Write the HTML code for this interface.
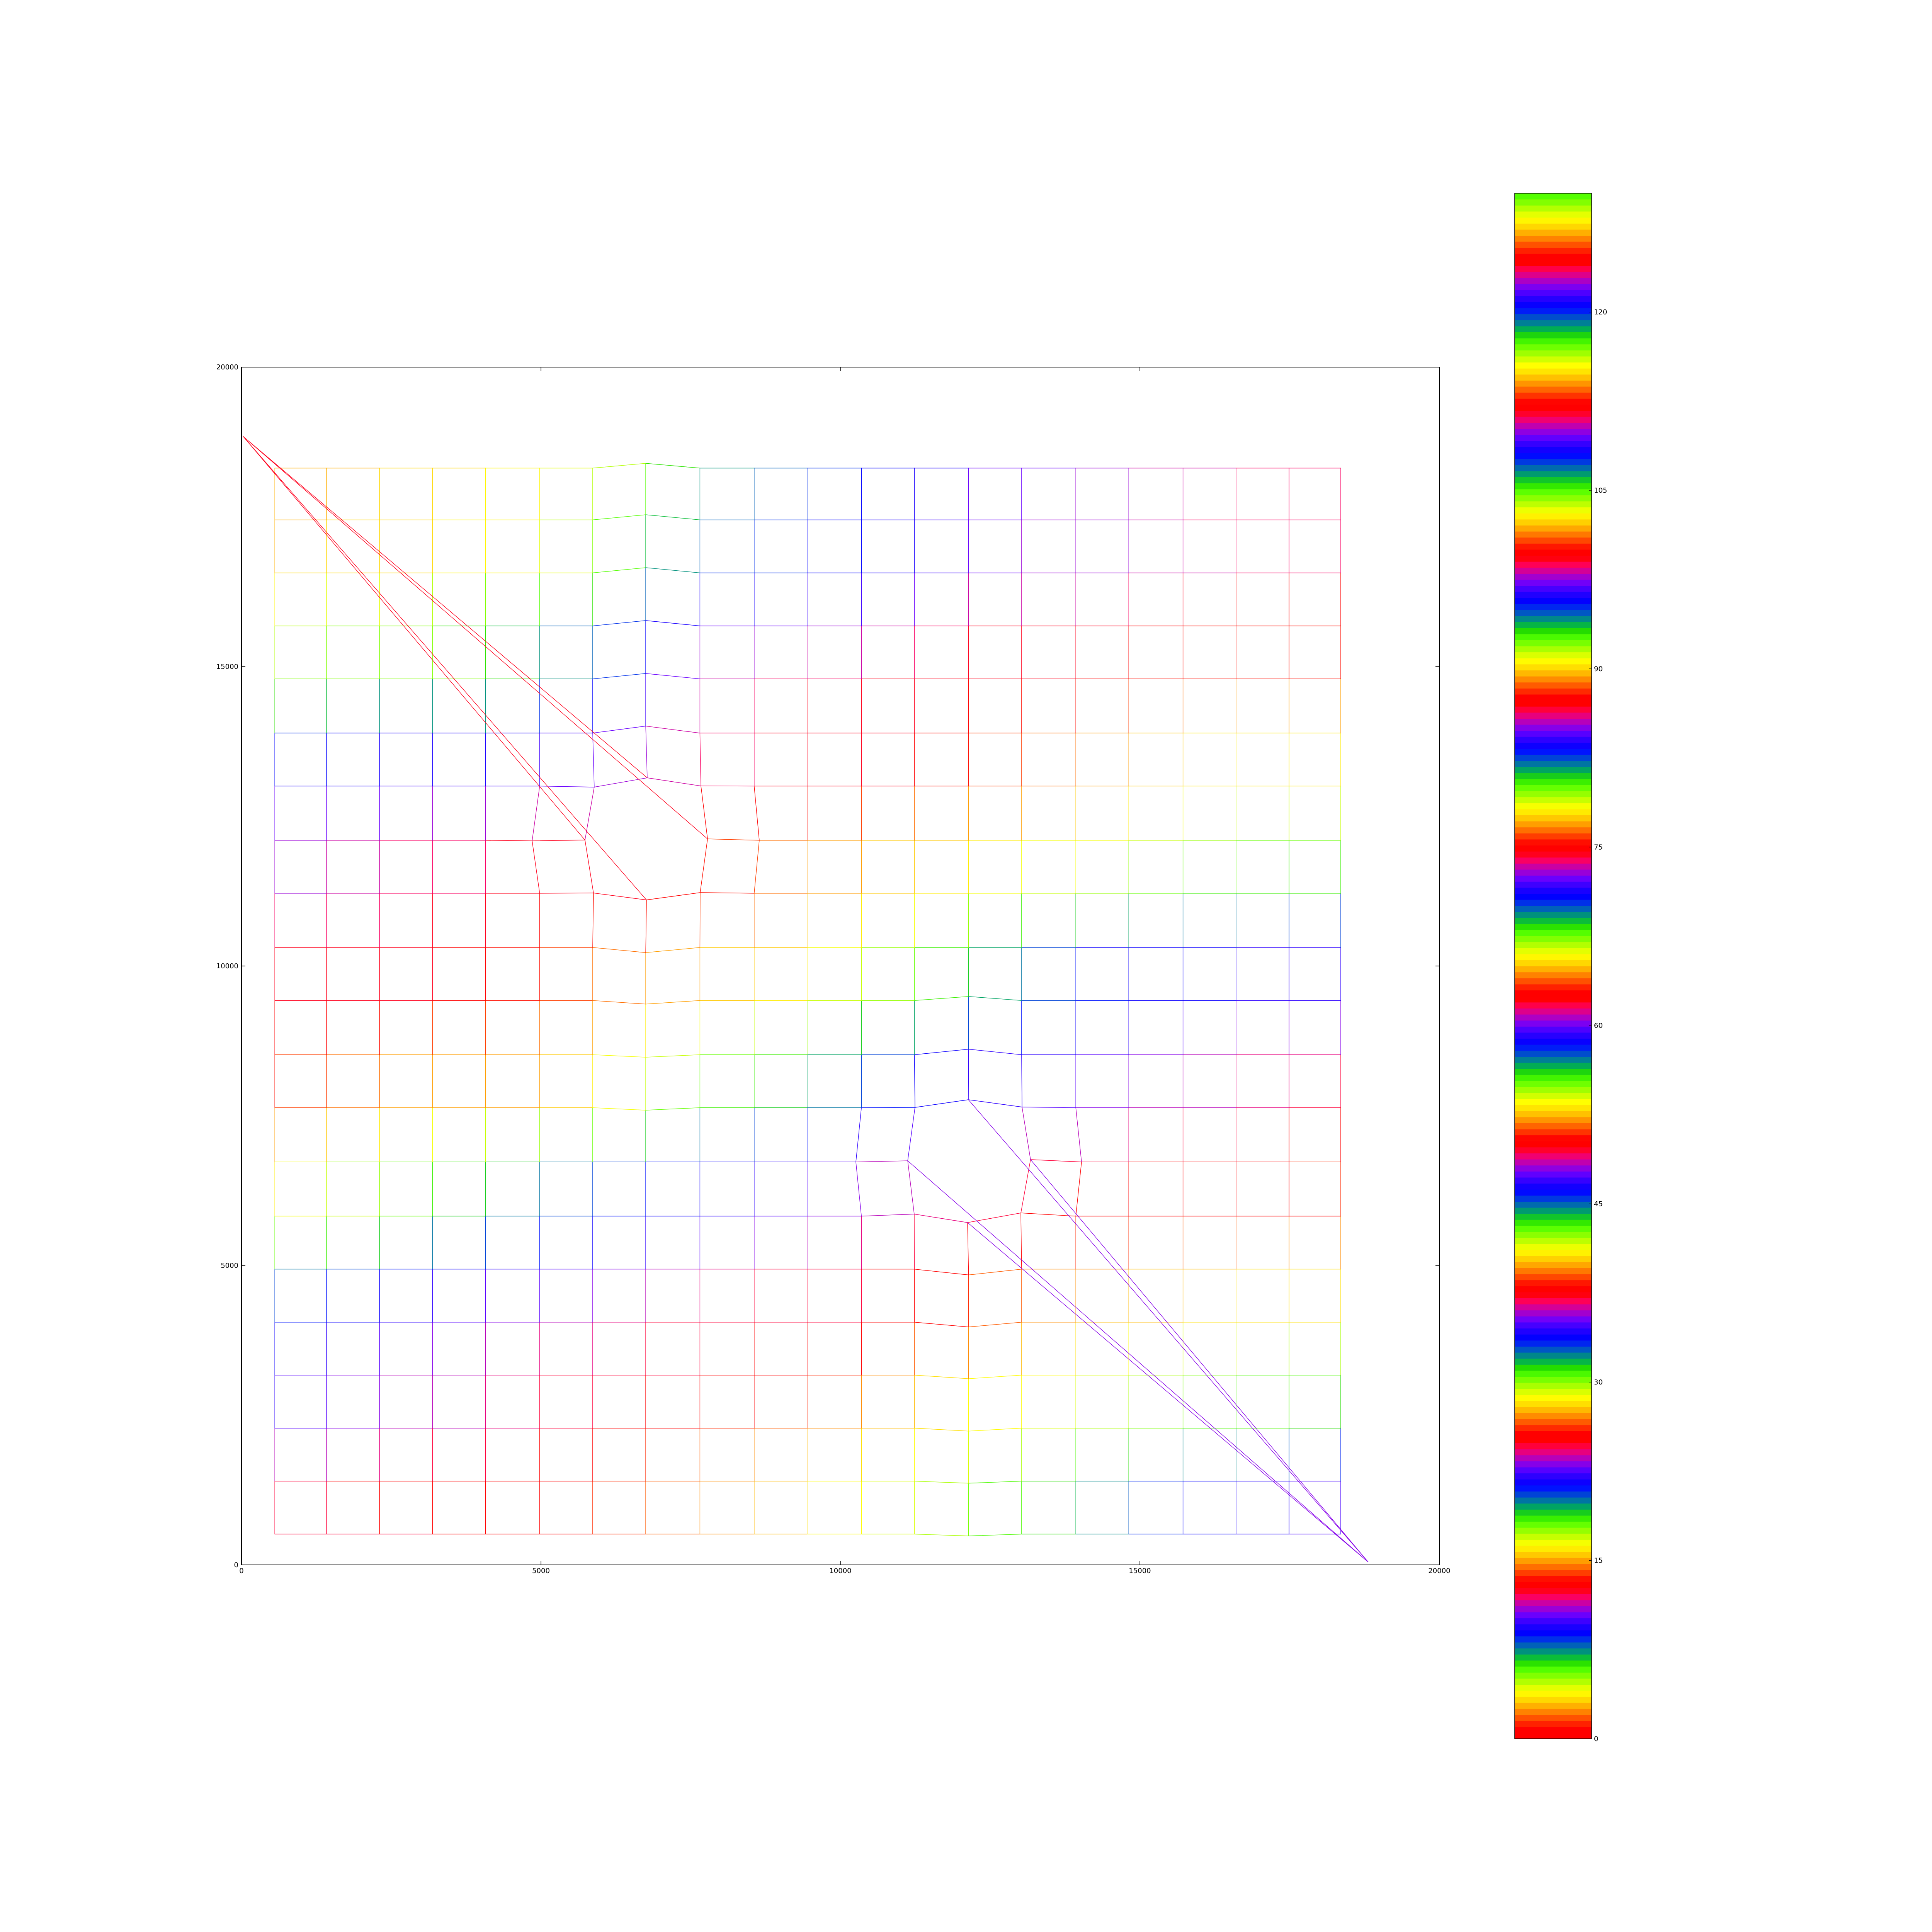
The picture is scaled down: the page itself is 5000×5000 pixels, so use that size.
<!DOCTYPE html>
<html><head><meta charset="utf-8"><title>Mesh chart</title>
<style>
html,body{margin:0;padding:0;background:#fff;}
svg{display:block;}
text{font-family:"DejaVu Sans","Liberation Sans",sans-serif;font-size:18px;fill:#000;}
</style></head>
<body>
<svg id="chart" xmlns="http://www.w3.org/2000/svg" width="5000" height="5000" viewBox="0 0 5000 5000">
<rect x="0" y="0" width="5000" height="5000" fill="#fff"/>
<g id="mesh"></g>
<g id="axes"></g>
<g id="cbar"></g>
</svg>
<script>
// ---- data ----
const xTicks = [0, 5000, 10000, 15000, 20000];
const yTicks = [0, 5000, 10000, 15000, 20000];
const cbTicks = [0, 15, 30, 45, 60, 75, 90, 105, 120];
const cbMax = 130;
const cycleLen = 12.44;
const colX = [556,1420,2305,3189,4074,4979,5864,6749,7654,8560,9444,10350,11235,12140,13025,13930,14815,15720,16605,17490,18354];
const rowY = [514,1399,2284,3169,4053,4938,5823,6728,7634,8519,9424,10309,11214,12099,13004,13889,14794,15679,16564,17449,18313];
const dyCol7 = [0,0,0,0,0,0,0,0,-42,-42,-60,-85,0,0,0,117,90,89,87,86,80];
const dyCol13 = [-30,-35,-50,-60,-80,-96,0,0,0,92,67,0,0,0,0,0,0,0,0,0,0];
const removedNodes = [[13,7],[7,13]];
const nodeOverrides = [
 [13,6,5735,12103],[13,8,7781,12122],[14,7,6774,13142],[12,7,6761,11103],
 [14,6,5890,12987],[14,8,7671,13006],[12,6,5877,11219],[12,8,7658,11226],
 [13,5,4852,12090],[13,9,8645,12099],
 [8,13,12136,7768],[7,12,11123,6748],[7,14,13174,6768],[6,13,12123,5716],
 [8,12,11245,7639],[8,14,13032,7645],[6,12,11232,5858],[6,14,13013,5877],
 [7,11,10258,6728],[7,15,14026,6728]
];
// node values in colour-cycles (value = cycles * cycleLen), rows bottom→top
const cyc = [
 [2.0,2.0,2.0,2.0,2.02,2.05,2.08,2.12,2.18,2.22,2.27,2.32,2.36,2.42,2.48,2.55,2.62,2.7,2.75,2.78,2.8],
 [2.0,2.0,2.02,2.02,2.03,2.06,2.1,2.13,2.18,2.22,2.27,2.32,2.37,2.43,2.48,2.55,2.62,2.7,2.74,2.77,2.8],
 [1.78,1.82,1.86,1.9,1.93,1.96,2.0,2.05,2.1,2.13,2.15,2.2,2.25,2.3,2.33,2.36,2.42,2.46,2.48,2.5,2.52],
 [1.8,1.83,1.86,1.9,1.93,1.96,1.99,2.0,2.0,2.02,2.07,2.15,2.22,2.28,2.31,2.34,2.37,2.42,2.45,2.47,2.48],
 [1.68,1.72,1.76,1.82,1.85,1.88,1.92,1.96,1.99,2.0,2.0,2.0,2.03,2.12,2.16,2.19,2.22,2.25,2.26,2.27,2.28],
 [1.6,1.64,1.68,1.72,1.76,1.79,1.83,1.87,1.92,1.96,2.0,2.0,2.02,2.1,2.15,2.18,2.2,2.23,2.25,2.27,2.28],
 [1.3,1.35,1.42,1.5,1.58,1.62,1.66,1.7,1.75,1.79,1.83,1.86,1.9,1.98,2.0,2.01,2.02,2.03,2.05,2.06,2.07],
 [1.3,1.38,1.43,1.47,1.52,1.58,1.63,1.68,1.72,1.76,1.8,1.86,1.9,1.93,2.0,2.0,2.0,2.03,2.06,2.08,2.1],
 [1.1,1.15,1.18,1.2,1.2,1.22,1.28,1.4,1.48,1.52,1.57,1.66,1.73,1.77,1.8,1.83,1.87,1.9,1.93,1.95,1.97],
 [1.1,1.12,1.17,1.2,1.2,1.22,1.27,1.35,1.42,1.46,1.55,1.63,1.7,1.75,1.78,1.81,1.85,1.9,1.93,1.95,1.96],
 [1.0,1.0,1.0,1.02,1.05,1.1,1.15,1.2,1.22,1.25,1.3,1.4,1.45,1.55,1.62,1.68,1.72,1.75,1.76,1.77,1.78],
 [1.0,1.0,1.0,1.02,1.05,1.1,1.15,1.2,1.22,1.24,1.28,1.36,1.42,1.52,1.62,1.7,1.73,1.75,1.76,1.77,1.78],
 [0.88,0.9,0.93,0.95,0.97,0.99,1.0,1.0,1.05,1.12,1.18,1.22,1.26,1.3,1.34,1.37,1.42,1.46,1.48,1.5,1.5],
 [0.87,0.9,0.93,0.96,0.98,1.0,1.0,1.05,1.1,1.15,1.2,1.22,1.25,1.28,1.3,1.32,1.36,1.4,1.44,1.46,1.47],
 [0.77,0.77,0.78,0.78,0.79,0.8,0.85,0.9,0.95,0.97,1.0,1.0,1.04,1.1,1.14,1.18,1.22,1.26,1.28,1.3,1.3],
 [0.63,0.68,0.73,0.75,0.75,0.76,0.8,0.85,0.95,0.98,1.0,1.0,1.04,1.1,1.14,1.18,1.22,1.26,1.28,1.3,1.3],
 [0.42,0.42,0.42,0.43,0.46,0.55,0.62,0.75,0.9,0.95,0.96,0.97,0.99,1.0,1.0,1.02,1.05,1.08,1.1,1.1,1.1],
 [0.38,0.4,0.43,0.46,0.52,0.6,0.65,0.7,0.82,0.84,0.86,0.88,0.92,0.98,1.0,1.0,1.02,1.07,1.1,1.1,1.1],
 [0.25,0.26,0.27,0.28,0.3,0.33,0.4,0.55,0.65,0.68,0.7,0.73,0.78,0.84,0.86,0.87,0.88,0.92,0.95,0.96,0.97],
 [0.22,0.24,0.26,0.28,0.3,0.34,0.42,0.52,0.6,0.65,0.7,0.73,0.77,0.84,0.86,0.88,0.9,0.94,0.96,0.97,0.97],
 [0.2,0.22,0.24,0.26,0.28,0.31,0.36,0.45,0.57,0.6,0.64,0.7,0.74,0.8,0.84,0.86,0.88,0.92,0.95,0.97,0.98]
];
const wedge1Apex = [30, 18840];
const wedge1Targets = [[14,7],[13,8],[13,6],[12,7]];
const wedge1Cycles = 1.0;
const wedge2Apex = [18810, 50];
const wedge2Targets = [[8,13],[7,14],[7,12],[6,13]];
const wedge2Cycles = 1.87;

// ---- layout ----
const AX = {l:625, t:950, r:3725, b:4050};
const CB = {l:3920, t:500, r:4119, b:4500};
const dMin = 0, dMax = 20000;
function sx(d){ return AX.l + (d - dMin) / (dMax - dMin) * (AX.r - AX.l); }
function sy(d){ return AX.b - (d - dMin) / (dMax - dMin) * (AX.b - AX.t); }
function cby(v){ return CB.b - v / cbMax * (CB.b - CB.t); }

function prism(x){
  const k = x * 20.9;
  let r = 0.75*Math.sin((k+0.25)*Math.PI)+0.67;
  let g = 0.75*Math.sin((k-0.25)*Math.PI)+0.33;
  let b = -1.1*Math.sin(k*Math.PI);
  const c = v => Math.round(Math.max(0,Math.min(1,v))*255);
  return 'rgb('+c(r)+','+c(g)+','+c(b)+')';
}
function colorFor(v){
  let i = Math.floor(v / cbMax * 256);
  i = Math.max(0, Math.min(255, i));
  return prism(i/255);
}
const NS = 'http://www.w3.org/2000/svg';
function mk(tag, attrs, parent){
  const e = document.createElementNS(NS, tag);
  for (const k in attrs) e.setAttribute(k, attrs[k]);
  parent.appendChild(e);
  return e;
}

// ---- nodes ----
const N = rowY.length, M = colX.length;
const nodes = [];
for (let r=0;r<N;r++){
  nodes.push([]);
  for (let c=0;c<M;c++){
    let x = colX[c], y = rowY[r];
    if (c===7) y += dyCol7[r];
    if (c===13) y += dyCol13[r];
    nodes[r].push({x:x, y:y, v:cyc[r][c]*cycleLen, alive:true});
  }
}
nodeOverrides.forEach(o => { nodes[o[0]][o[1]].x = o[2]; nodes[o[0]][o[1]].y = o[3]; });
removedNodes.forEach(o => { nodes[o[0]][o[1]].alive = false; });

const mesh = document.getElementById('mesh');
function edge(a, b, v, name){
  const l = mk('line', {x1:sx(a.x).toFixed(1), y1:sy(a.y).toFixed(1), x2:sx(b.x).toFixed(1), y2:sy(b.y).toFixed(1),
    stroke:colorFor(v), 'stroke-width':1.4, 'stroke-linecap':'round'}, mesh);
  
  
}
for (let r=0;r<N;r++){
  for (let c=0;c<M;c++){
    const a = nodes[r][c];
    if (!a.alive) continue;
    if (c+1<M && nodes[r][c+1].alive){ const b=nodes[r][c+1]; edge(a,b,(a.v+b.v)/2,'mesh-edge'); }
    if (r+1<N && nodes[r+1][c].alive){ const b=nodes[r+1][c]; edge(a,b,(a.v+b.v)/2,'mesh-edge'); }
  }
}
wedge1Targets.forEach(t => edge({x:wedge1Apex[0],y:wedge1Apex[1]}, nodes[t[0]][t[1]], wedge1Cycles*cycleLen, 'wedge-line-upper-left'));
wedge2Targets.forEach(t => edge({x:wedge2Apex[0],y:wedge2Apex[1]}, nodes[t[0]][t[1]], wedge2Cycles*cycleLen, 'wedge-line-lower-right'));

// ---- axes ----
const axes = document.getElementById('axes');
const frame = mk('rect', {x:AX.l, y:AX.t, width:AX.r-AX.l, height:AX.b-AX.t, fill:'none', stroke:'#000', 'stroke-width':2}, axes);


xTicks.forEach(t => {
  const x = sx(t);
  const tb = mk('line', {x1:x, y1:AX.b, x2:x, y2:AX.b-10, stroke:'#000','stroke-width':1.5}, axes);
  
  
  const tt = mk('line', {x1:x, y1:AX.t, x2:x, y2:AX.t+10, stroke:'#000','stroke-width':1.5}, axes);
  
  
  const lb = mk('text', {x:x, y:AX.b+21, 'text-anchor':'middle'}, axes);
  lb.textContent = String(t);
  
  
});
yTicks.forEach(t => {
  const y = sy(t);
  const tl = mk('line', {x1:AX.l, y1:y, x2:AX.l+10, y2:y, stroke:'#000','stroke-width':1.5}, axes);
  
  
  const tr = mk('line', {x1:AX.r, y1:y, x2:AX.r-10, y2:y, stroke:'#000','stroke-width':1.5}, axes);
  
  
  const lb = mk('text', {x:AX.l-8, y:y+6, 'text-anchor':'end'}, axes);
  lb.textContent = String(t);
  
  
});

// ---- colorbar ----
const cbar = document.getElementById('cbar');
for (let i=0;i<256;i++){
  const v0 = i/256*cbMax, v1 = (i+1)/256*cbMax;
  const y1 = cby(v1), y0 = cby(v0);
  const band = mk('rect', {x:CB.l, y:y1.toFixed(2), width:CB.r-CB.l, height:(y0-y1+0.6).toFixed(2), fill:prism(i/255)}, cbar);
  
  
}
const cbf = mk('rect', {x:CB.l, y:CB.t, width:CB.r-CB.l, height:CB.b-CB.t, fill:'none', stroke:'#000','stroke-width':1.5}, cbar);


cbTicks.forEach(t => {
  const y = cby(t);
  const tk = mk('line', {x1:CB.r, y1:y, x2:CB.r-6, y2:y, stroke:'#000','stroke-width':1}, cbar);
  
  
  const lb = mk('text', {x:CB.r+6, y:y+6, 'text-anchor':'start'}, cbar);
  lb.textContent = String(t);
  
  
});
</script>
</body></html>
